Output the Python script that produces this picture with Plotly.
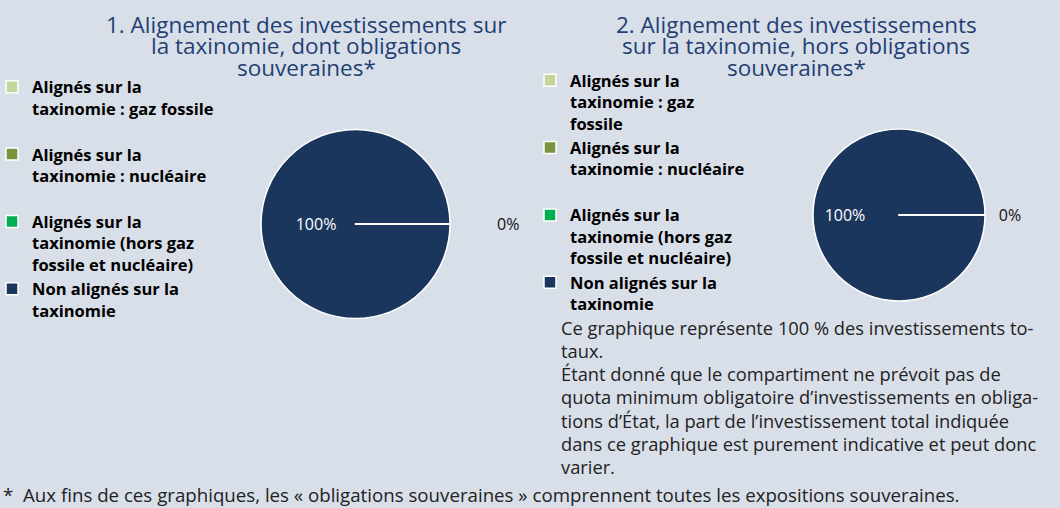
import plotly.graph_objects as go

# ---- data ----
categories_1 = [
    "Alignés sur la<br>taxinomie : gaz fossile<br> ",
    "Alignés sur la<br>taxinomie : nucléaire<br> ",
    "Alignés sur la<br>taxinomie (hors gaz<br>fossile et nucléaire)",
    "Non alignés sur la<br>taxinomie<br> ",
]
categories_2 = [
    "Alignés sur la<br>taxinomie : gaz<br>fossile",
    "Alignés sur la<br>taxinomie : nucléaire<br>\u00a0",
    "Alignés sur la<br>taxinomie (hors gaz<br>fossile et nucléaire)\u00a0",
    "Non alignés sur la<br>taxinomie<br>\u00a0",
]
values_1 = [0, 0, 0, 100]
values_2 = [0, 0, 0, 100]
colors = ["#C3D69B", "#77933C", "#00B050", "#1B365D"]
# which slices carry a percentage label
show_label = [False, False, True, True]

title_1 = ["1. Alignement des investissements sur", "la taxinomie, dont obligations", "souveraines*"]
title_2 = ["2. Alignement des investissements", "sur la taxinomie, hors obligations", "souveraines*"]
note_lines = [
    "Ce graphique représente 100 % des investissements to-",
    "taux.",
    "Étant donné que le compartiment ne prévoit pas de",
    "quota minimum obligatoire d’investissements en obliga-",
    "tions d’État, la part de l’investissement total indiquée",
    "dans ce graphique est purement indicative et peut donc",
    "varier.",
]
footnote = "*  Aux fins de ces graphiques, les « obligations souveraines » comprennent toutes les expositions souveraines."

W, H = 1060, 508
BG = "#D9DFE9"
FONT = "Open Sans"
NB = "\u00a0"


def pct_text(values, show, pad_in, pad_out):
    total = sum(values)
    out = []
    for v, s in zip(values, show):
        if not s:
            out.append("")
            continue
        t = f"{v / total * 100:.0f}%"
        out.append(t + NB * pad_in if v > 0 else NB * pad_out + t)
    return out


def pie(labels, values, domain, legend, pad_in, pad_out):
    # drawn in reverse order so the zero-slice borders are painted over the full disc
    txt = pct_text(values, show_label, pad_in, pad_out)
    pos = ["inside" if v > 0 else "outside" for v in values]
    return go.Pie(
        labels=labels[::-1], values=values[::-1], text=txt[::-1], textinfo="text",
        sort=False, direction="clockwise", rotation=90,
        marker=dict(colors=colors[::-1], line=dict(color="white", width=1.5)),
        textposition=pos[::-1], insidetextorientation="horizontal",
        insidetextfont=dict(color="white", size=16, family=FONT),
        outsidetextfont=dict(color="#111111", size=16, family=FONT),
        domain=domain, legend=legend, hoverinfo="label+percent",
    )


fig = go.Figure()
fig.add_trace(pie(categories_1, values_1,
                  dict(x=[261 / W, 450 / W], y=[1 - 318.5 / H, 1 - 129.5 / H]), "legend", 19, 10))
fig.add_trace(pie(categories_2, values_2,
                  dict(x=[813 / W, 985 / W], y=[1 - 301 / H, 1 - 129 / H]), "legend2", 26, 2))

annotations = []
for i, line in enumerate(title_1):
    annotations.append(dict(text=line, x=306 / W, y=1 - (24 + 21.5 * i) / H, xref="paper", yref="paper",
                            xanchor="center", yanchor="middle", showarrow=False,
                            font=dict(family=FONT, size=22.5, color="#1F3F73")))
for i, line in enumerate(title_2):
    annotations.append(dict(text=line, x=796 / W, y=1 - (24 + 21.5 * i) / H, xref="paper", yref="paper",
                            xanchor="center", yanchor="middle", showarrow=False,
                            font=dict(family=FONT, size=22.5, color="#1F3F73")))
for i, line in enumerate(note_lines):
    annotations.append(dict(text=line, x=559 / W, y=1 - (327 + 23.3 * i) / H, xref="paper", yref="paper",
                            xanchor="left", yanchor="middle", showarrow=False,
                            font=dict(family=FONT, size=18.3, color="#222222")))
annotations.append(dict(text=footnote, x=1 / W, y=1 - 494 / H, xref="paper", yref="paper",
                        xanchor="left", yanchor="middle", showarrow=False,
                        font=dict(family=FONT, size=18.7, color="#222222")))

legend_common = dict(
    font=dict(family=FONT, size=16.5, color="#000000", weight="bold"),
    bgcolor="rgba(0,0,0,0)", valign="top", orientation="v", traceorder="reversed",
    xanchor="left", yanchor="top", itemclick=False, itemdoubleclick=False,
)

fig.update_layout(
    width=W, height=H,
    margin=dict(l=0, r=0, t=0, b=0),
    paper_bgcolor=BG, plot_bgcolor=BG,
    showlegend=True,
    legend=dict(x=0, y=1 - 69.5 / H, indentation=-8, **legend_common),
    legend2=dict(x=530 / W, y=1 - 63 / H, **legend_common),
    annotations=annotations,
)

fig.write_html("out.html", config={"displayModeBar": False},
               post_script="document.body.style.margin='0';")
